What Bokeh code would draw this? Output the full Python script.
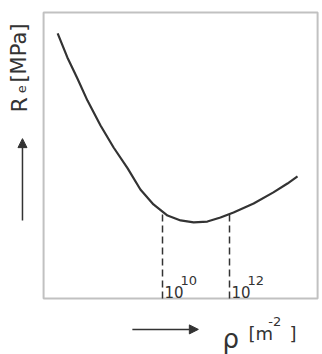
import math
from bokeh.plotting import figure
from bokeh.models import Range1d, Label, Arrow, NormalHead, ColumnDataSource, BoxAnnotation
from bokeh.core.properties import value
from bokeh.embed import file_html
from bokeh.resources import INLINE

# Data (x = log10 of dislocation density, y = yield strength in relative units)
log_rho = [6.87, 7.16, 7.46, 7.76, 8.15, 8.54, 8.96, 9.34, 9.73, 10.15, 10.54, 10.93,
           11.34, 11.73, 12.12, 12.72, 13.31, 13.73, 14.03]
re_val = [92.7, 84.3, 76.9, 69.2, 60.5, 52.8, 45.5, 38.1, 32.9, 29.0, 27.3, 26.6,
          26.9, 28.3, 30.1, 33.2, 37.1, 40.2, 42.7]

tick_pos = [10, 12]
tick_re = [30.2, 29.5]
tick_base = ["10", "10"]
tick_exp = ["10", "12"]

# axes box limits (data units)
X_LO, X_HI = 6.45, 14.63
Y_LO, Y_HI = 0, 100

INK = "#333333"
FONT = "DejaVu Sans"

p = figure(width=322, height=354, output_backend="svg", toolbar_location=None,
           x_range=Range1d(5.164, 14.776), y_range=Range1d(-19.58, 104.2),
           min_border_left=0, min_border_right=0, min_border_top=0, min_border_bottom=0)
p.xaxis.visible = False
p.yaxis.visible = False
p.grid.visible = False
p.outline_line_color = None
p.background_fill_color = "white"
p.border_fill_color = "white"

p.add_layout(BoxAnnotation(left=X_LO, right=X_HI, bottom=Y_LO, top=Y_HI,
                           fill_alpha=0, line_color=INK, line_width=2))

p.line(log_rho, re_val, line_color=INK, line_width=2.2, line_join="round")

p.segment(x0=tick_pos, y0=[Y_LO, Y_LO], x1=tick_pos, y1=tick_re,
          line_color=INK, line_width=1.5, line_dash="7 4")

src = ColumnDataSource(dict(x=tick_pos, y=[Y_LO, Y_LO], base=tick_base, exp=tick_exp))
p.text(x="x", y="y", text="base", source=src, x_offset=2, y_offset=-1,
       text_baseline="bottom", text_align="left", text_font=value(FONT),
       text_font_size="15px", text_color=INK)
p.text(x="x", y="y", text="exp", source=src, x_offset=18, y_offset=-14,
       text_baseline="bottom", text_align="left", text_font=value(FONT),
       text_font_size="13px", text_color=INK)

# y-axis title (rotated)
p.add_layout(Label(x=5.73, y=65.0, text="R", angle=math.pi / 2, text_font=FONT,
                   text_font_size="22px", text_color=INK, text_baseline="alphabetic",
                   text_align="left"))
p.add_layout(Label(x=5.80, y=71.8, text="e", angle=math.pi / 2, text_font=FONT,
                   text_font_size="13px", text_color=INK, text_baseline="alphabetic",
                   text_align="left"))
p.add_layout(Label(x=5.73, y=75.5, text="[MPa]", angle=math.pi / 2, text_font=FONT,
                   text_font_size="21px", text_color=INK, text_baseline="alphabetic",
                   text_align="left"))
p.add_layout(Arrow(x_start=5.82, y_start=27.3, x_end=5.82, y_end=55.9,
                   line_color=INK, line_width=1.5,
                   end=NormalHead(size=9, fill_color=INK, line_color=INK)))

# x-axis title
p.add_layout(Arrow(x_start=9.10, y_start=-10.8, x_end=11.07, y_end=-10.8,
                   line_color=INK, line_width=1.5,
                   end=NormalHead(size=9, fill_color=INK, line_color=INK)))
p.add_layout(Label(x=11.79, y=-14.0, text="\u03c1", text_font=FONT,
                   text_font_size="26px", text_color=INK, text_baseline="alphabetic",
                   text_align="left"))
p.add_layout(Label(x=12.567, y=-12.2, text="[m", text_font=FONT,
                   text_font_size="18px", text_color=INK, text_baseline="alphabetic",
                   text_align="left"))
p.add_layout(Label(x=13.16, y=-8.2, text="-2", text_font=FONT,
                   text_font_size="13px", text_color=INK, text_baseline="alphabetic",
                   text_align="left"))
p.add_layout(Label(x=13.79, y=-12.2, text="]", text_font=FONT,
                   text_font_size="18px", text_color=INK, text_baseline="alphabetic",
                   text_align="left"))

open("out.html", "w").write(file_html(p, INLINE))
